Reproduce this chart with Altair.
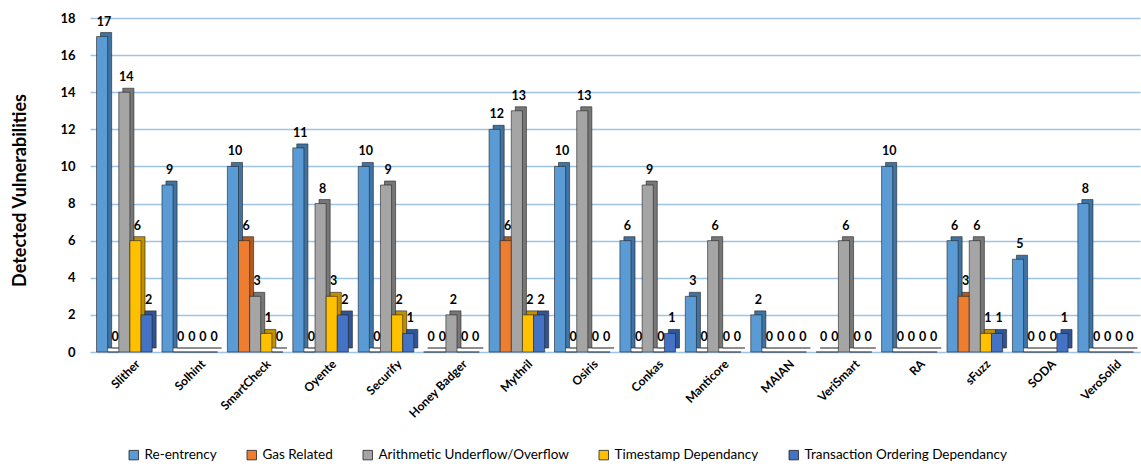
import altair as alt
import pandas as pd

tools = ["Slither", "Solhint", "SmartCheck", "Oyente", "Securify", "Honey Badger",
         "Mythril", "Osiris", "Conkas", "Manticore", "MAIAN", "VeriSmart", "RA",
         "sFuzz", "SODA", "VeroSolid"]
series = ["Re-entrency", "Gas Related", "Arithmetic Underflow/Overflow",
          "Timestamp Dependancy", "Transaction Ordering Dependancy"]
reentrancy = [17, 9, 10, 11, 10, 0, 12, 10, 6, 3, 2, 0, 10, 6, 5, 8]
gas = [0, 0, 6, 0, 0, 0, 6, 0, 0, 0, 0, 0, 0, 3, 0, 0]
arith = [14, 0, 3, 8, 9, 2, 13, 13, 9, 6, 0, 6, 0, 6, 0, 0]
timestamp = [6, 0, 1, 3, 2, 0, 2, 0, 0, 0, 0, 0, 0, 1, 0, 0]
tod = [2, 0, 0, 2, 1, 0, 2, 0, 1, 0, 0, 0, 0, 1, 1, 0]
colors = ["#5b9bd5", "#ed7d31", "#a5a5a5", "#ffc000", "#4472c4"]
dark = ["#3f73a3", "#b05a1f", "#777777", "#bf9000", "#2f5597"]

rows = []
for s, vals, d in zip(series, [reentrancy, gas, arith, timestamp, tod], dark):
    for t, v in zip(tools, vals):
        rows.append({"tool": t, "series": s, "value": v, "dark": d})
df = pd.DataFrame(rows)

W, H = 1050, 334
pin, pout = 0.15, 0.1
step = W / (len(tools) - pin + 2 * pout)
bw = step * (1 - pin)
depth = 4
FONT = "Lato"

xscale = alt.Scale(paddingInner=pin, paddingOuter=pout)
xaxis = alt.Axis(title=None, labelAngle=-45, labelFont=FONT, labelFontSize=12,
                 labelFontWeight="bold", labelColor="#000", ticks=False,
                 domain=False, labelPadding=6, labelOffset=10)
yscale = alt.Scale(domain=[0, 18], nice=False)
yaxis = alt.Axis(title="Detected Vulnerabilities", values=list(range(0, 19, 2)),
                 labelFont=FONT, labelFontSize=13, labelFontWeight="bold",
                 labelColor="#000", labelPadding=15, ticks=False, domain=False,
                 gridColor="#9dc3e6", gridWidth=1.5,
                 titleFont=FONT, titleFontSize=18, titleFontWeight="bold",
                 titleColor="#000", titleX=-61, titleY=172, titleAngle=-90,
                 titleBaseline="bottom", titleAlign="center")

X = alt.X("tool:N", sort=tools, scale=xscale, axis=xaxis)
Y = alt.Y("value:Q", scale=yscale, axis=yaxis)

back = alt.Chart(df).mark_bar(yOffset=-depth, stroke="#222", strokeWidth=0.6).encode(
    x=X,
    xOffset=alt.XOffset("series:N", sort=series,
                        scale=alt.Scale(range=[depth, bw + depth], paddingInner=0)),
    y=Y,
    color=alt.Color("dark:N", scale=None),
)

front = alt.Chart(df).mark_bar(stroke="#222", strokeWidth=0.6).encode(
    x=X,
    xOffset=alt.XOffset("series:N", sort=series,
                        scale=alt.Scale(range=[0, bw], paddingInner=0)),
    y=Y,
    color=alt.Color("series:N", sort=series,
                    scale=alt.Scale(domain=series, range=colors),
                    legend=alt.Legend(title=None, orient="none", direction="horizontal",
                                      legendX=37, legendY=430, symbolType="square",
                                      symbolSize=90, symbolStrokeColor="#333",
                                      symbolStrokeWidth=0.8, labelFont=FONT,
                                      labelFontSize=13.5, labelColor="#000",
                                      labelLimit=0, columnPadding=28, labelOffset=4)),
)

labels = alt.Chart(df).mark_text(dy=-15, dx=2, font=FONT, fontSize=12.5,
                                 fontWeight="bold", color="#000").encode(
    x=X,
    xOffset=alt.XOffset("series:N", sort=series,
                        scale=alt.Scale(range=[0, bw], paddingInner=0)),
    y=Y,
    text="value:Q",
)

chart = alt.layer(back, front, labels).resolve_scale(xOffset="independent").properties(
    width=W, height=H, autosize="none",
    padding={"left": 90, "top": 18, "right": 1, "bottom": 116},
).configure_view(stroke=None)

chart.save("out.html", embed_options={"renderer": "svg", "actions": False})
